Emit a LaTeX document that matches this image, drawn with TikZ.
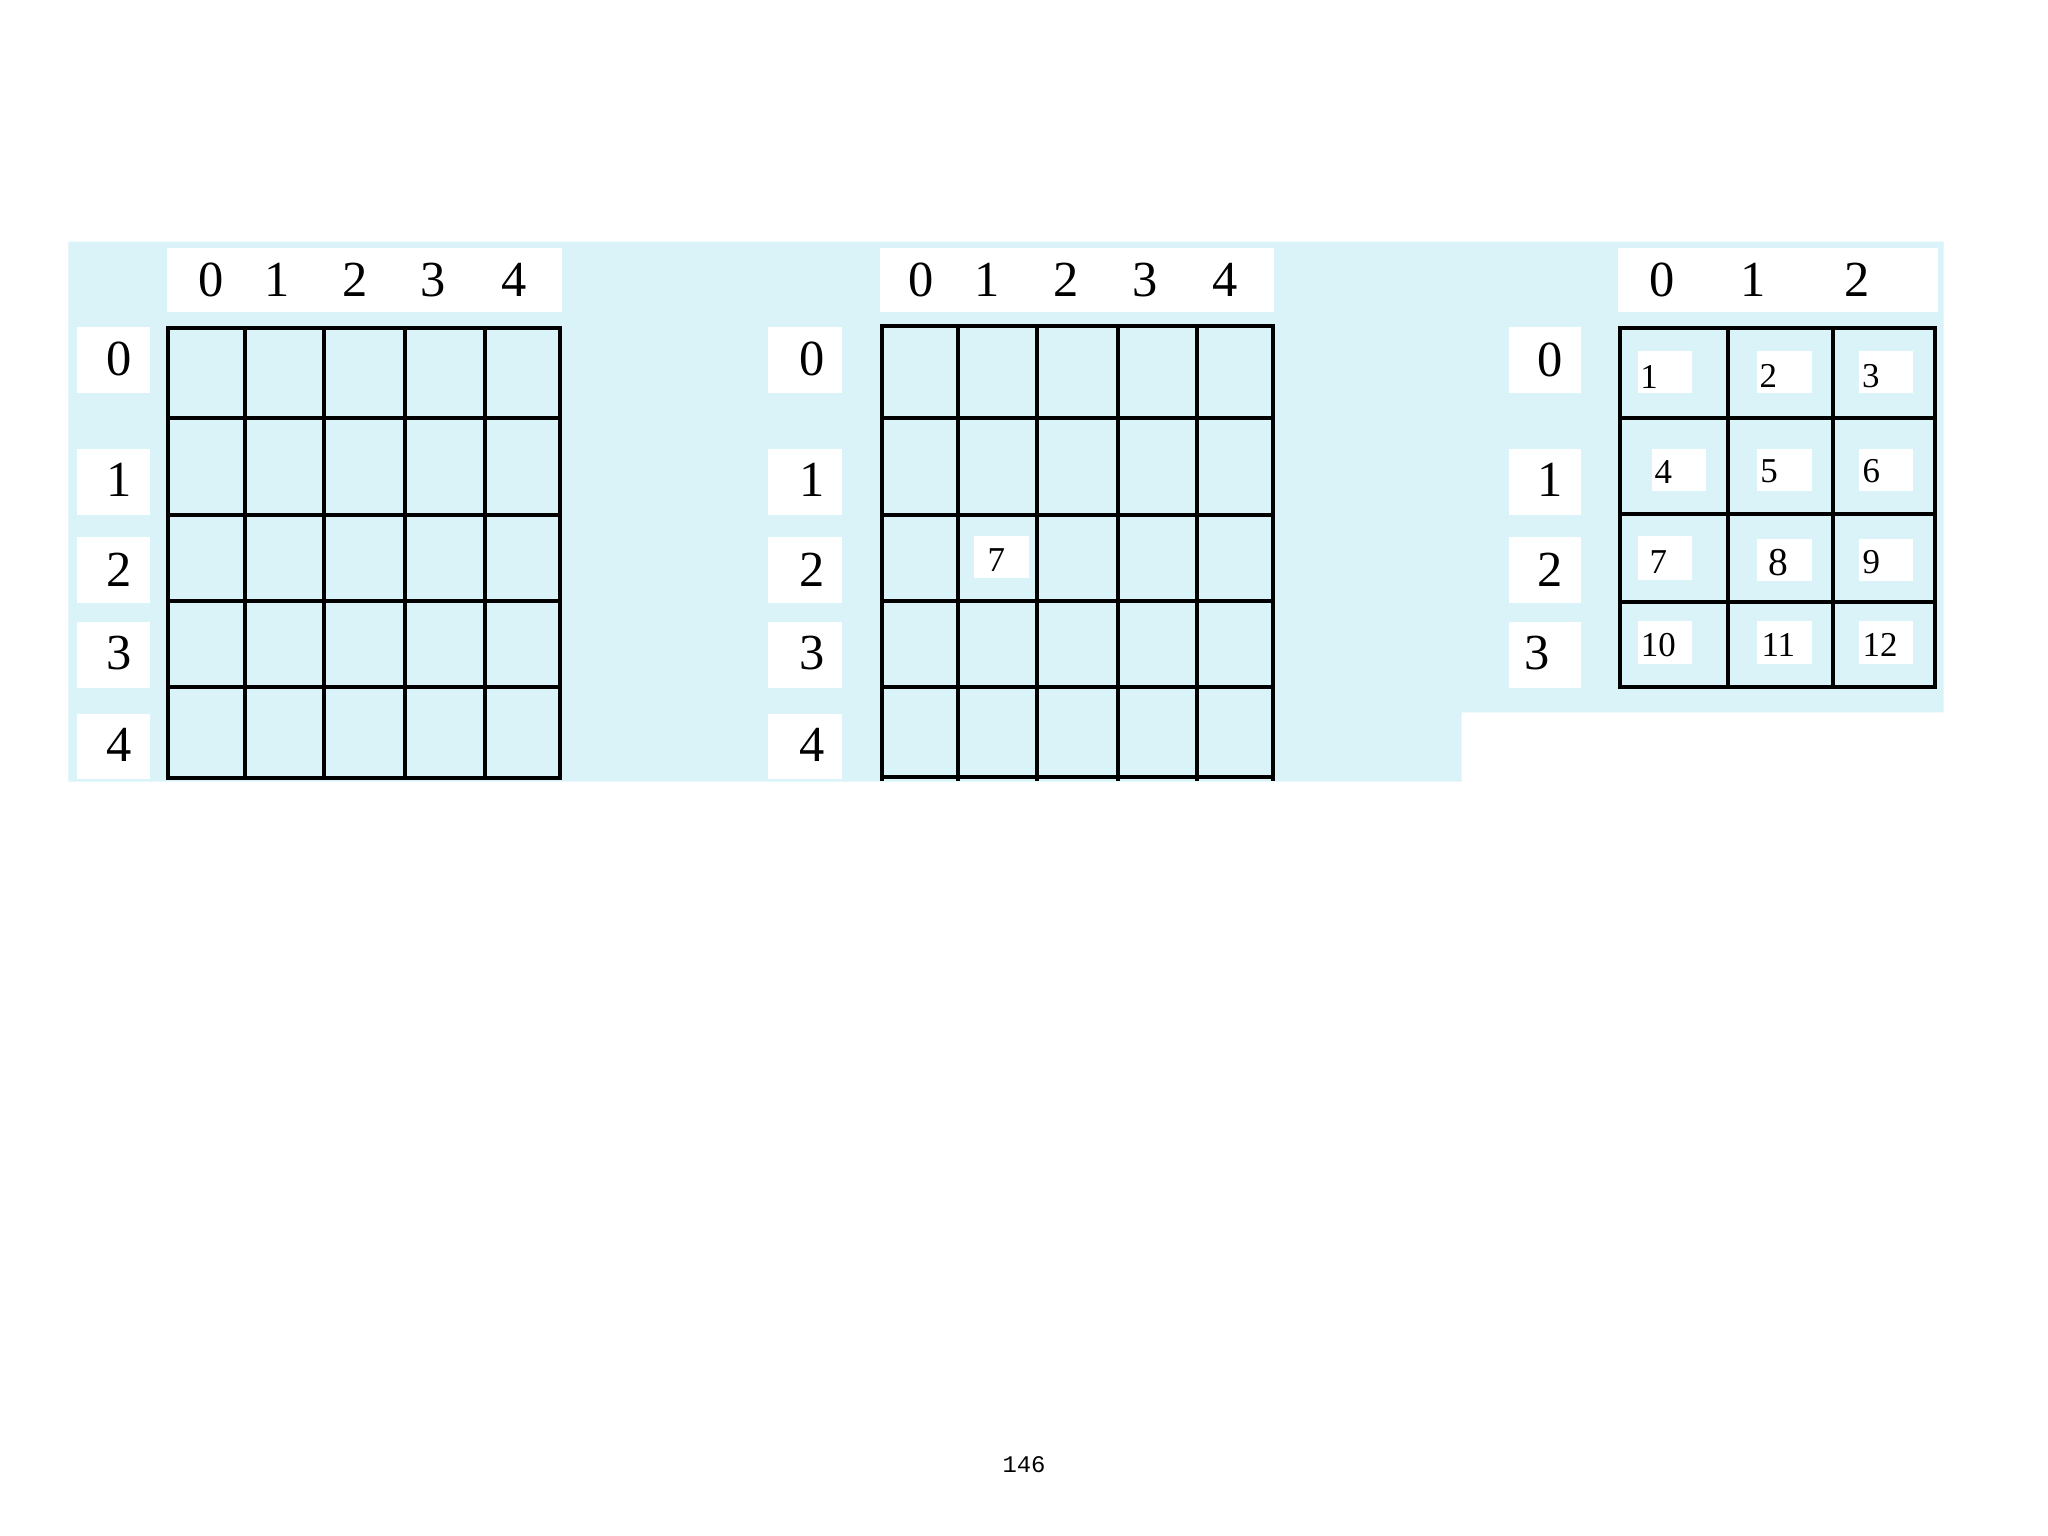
\documentclass[tikz,border=0pt]{standalone}
\usepackage{fontspec}
\setmainfont{Liberation Serif}
\newfontfamily\pagemono{Liberation Mono}
\definecolor{bgblue}{RGB}{217,243,249}
\tikzset{
  x=0.1mm, y=-0.1mm,
  gridline/.style={line width=0.87pt, line cap=rect, black},
  wbox/.style={draw=none, fill=white, inner sep=0pt, anchor=north west},
  bigdig/.style={inner sep=0pt, anchor=center, font=\fontsize{11}{11}\selectfont},
  smalldig/.style={inner sep=0pt, anchor=center, font=\fontsize{7.6}{7.6}\selectfont},
}
\begin{document}
\begin{tikzpicture}
\useasboundingbox (0,0) rectangle (1568,1176);
\fill[white] (0,0) rectangle (1568,1176);
% background panel
\fill[bgblue] (52.3,185) -- (1488,185) -- (1488,545.4) -- (1119,545.4) -- (1119,598.5) -- (52.3,598.5) -- cycle;

% ---------- header boxes ----------
\node[wbox, minimum width=302.4*0.1mm, minimum height=49.3*0.1mm] (hL) at (127.1,189.1) {};
\node[wbox, minimum width=302.1*0.1mm, minimum height=49.3*0.1mm] (hM) at (672.7,189.1) {};
\node[wbox, minimum width=245*0.1mm, minimum height=49.3*0.1mm] (hR) at (1237.8,189.1) {};

% ---------- row label boxes ----------
\foreach \nm/\xl/\w in {L/58.2/56.1, M/587.3/56.7, R/1154.6/55.4}{
  \node[wbox, minimum width=\w*0.1mm, minimum height=50.9*0.1mm] (r\nm0) at (\xl,249.6) {};
  \node[wbox, minimum width=\w*0.1mm, minimum height=50.1*0.1mm] (r\nm1) at (\xl,343.4) {};
  \node[wbox, minimum width=\w*0.1mm, minimum height=50.5*0.1mm] (r\nm2) at (\xl,410.5) {};
  \node[wbox, minimum width=\w*0.1mm, minimum height=50.5*0.1mm] (r\nm3) at (\xl,475.5) {};
}
\node[wbox, minimum width=56.1*0.1mm, minimum height=50*0.1mm] (rL4) at (58.2,545.8) {};
\node[wbox, minimum width=56.7*0.1mm, minimum height=50*0.1mm] (rM4) at (587.3,545.8) {};

% ---------- header digits ----------
\foreach \d/\x in {0/161.3,1/211.8,2/271.8,3/331.8,4/393.6}{
  \node[bigdig] (hLd\d) at (\x,214.4) {\d};
}
\foreach \d/\x in {0/705.5,1/756,2/816.2,3/876.4,4/937.9}{
  \node[bigdig] (hMd\d) at (\x,214.4) {\d};
}
\foreach \d/\x in {0/1272.3,1/1342,2/1422}{
  \node[bigdig] (hRd\d) at (\x,214.4) {\d};
}

% ---------- row digits ----------
\foreach \d/\y in {0/274.5,1/367.5,2/436,3/500,4/570}{
  \node[bigdig] (rLd\d) at (91,\y) {\d};
  \node[bigdig] (rMd\d) at (622,\y) {\d};
}
\node[bigdig] (rRd0) at (1187,275.5) {0};
\node[bigdig] (rRd1) at (1187,367.5) {1};
\node[bigdig] (rRd2) at (1187,436.4) {2};
\node[bigdig] (rRd3) at (1177,500) {3};

% ---------- left grid ----------
\foreach \x in {128.3,187.8,248.1,310.1,371.3,429}{
  \draw[gridline] (\x,251.3) -- (\x,595.8);
}
\foreach \y in {251.3,319.9,394,460.5,526.1,595.8}{
  \draw[gridline] (128.3,\y) -- (429,\y);
}

% ---------- middle grid ----------
\node[wbox, minimum width=41.9*0.1mm, minimum height=32*0.1mm] (m7box) at (745.1,410) {};
\node[smalldig] (m7) at (762.9,428.5) {7};
\foreach \x in {674.9,733.6,793.9,855.9,916.5,974.8}{
  \draw[gridline] (\x,249.6) -- (\x,596.5);
}
\foreach \y in {249.6,319.9,394,460.5,526.1,594.8}{
  \draw[gridline] (674.9,\y) -- (974.8,\y);
}

% ---------- right grid: cell boxes ----------
\foreach \nm/\xl/\yt/\w/\h in {
  b1/1253/268/42/32, b2/1344.5/268/41.8/32, b3/1422.6/268/41/32,
  b4/1264/343/41.4/32, b5/1344.5/343/41.8/32, b6/1422.6/343/41/32,
  b7/1253/410/42/33, b8/1344.5/411.6/41.8/32.4, b9/1422.6/411.6/41/32.4,
  b10/1253/475/42/33, b11/1344.5/475/41.8/33, b12/1422.6/475/41/33}{
  \node[wbox, minimum width=\w*0.1mm, minimum height=\h*0.1mm] (\nm) at (\xl,\yt) {};
}
\foreach \t/\x/\y in {1/1262.6/288.4, 2/1353.8/288, 3/1432.3/288,
  4/1273.4/361, 5/1354.5/361, 6/1432.8/361,
  7/1269.6/430, 9/1432.8/430,
  10/1269.6/494, 11/1361.5/494, 12/1439.4/494}{
  \node[smalldig] (c\t) at (\x,\y) {\t};
}
\node[inner sep=0pt, anchor=center, font=\fontsize{8.6}{8.6}\selectfont] (c8) at (1361.5,431) {8};
\foreach \x in {1240.5,1322.9,1403.4,1481.5}{
  \draw[gridline] (\x,251.3) -- (\x,525.7);
}
\foreach \y in {251.3,320.3,393.5,460.7,525.7}{
  \draw[gridline] (1240.5,\y) -- (1481.5,\y);
}

% ---------- page number ----------
\node[inner sep=0pt, anchor=center, font=\pagemono\fontsize{5.2}{5.2}\selectfont] (pg) at (784,1121.5) {146};
\end{tikzpicture}
\end{document}
